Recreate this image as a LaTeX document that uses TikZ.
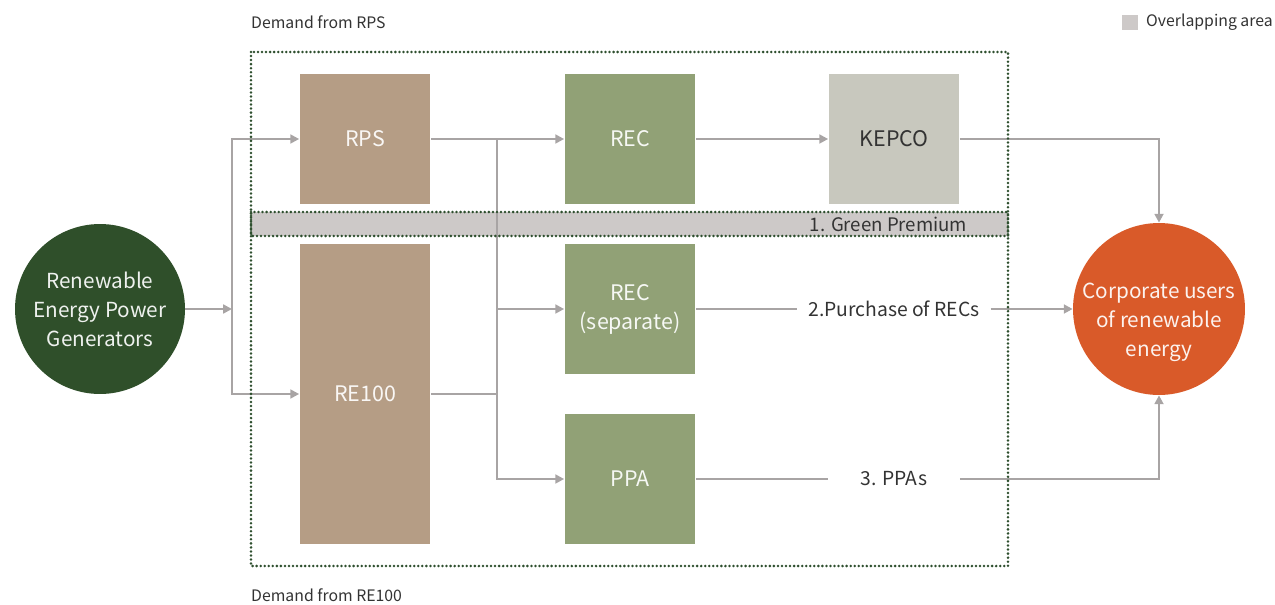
\documentclass[tikz,border=0pt]{standalone}
\usepackage{fontspec}
\setmainfont{Noto Sans CJK KR}
\usepackage{xcolor}
\usetikzlibrary{arrows.meta,positioning}
\definecolor{rpsbrown}{HTML}{B59D85}
\definecolor{recgreen}{HTML}{91A176}
\definecolor{kepcogray}{HTML}{C8C8BE}
\definecolor{bandgray}{HTML}{CDC9C8}
\definecolor{gendark}{HTML}{2F4F2A}
\definecolor{corporange}{HTML}{D95A29}
\definecolor{linegray}{HTML}{A8A4A4}
\definecolor{dotgreen}{HTML}{2E4F2E}
\definecolor{txtdark}{HTML}{333333}
\tikzset{
  box/.style={rectangle, minimum width=2.62cm, minimum height=2.62cm, inner sep=0pt, align=center, font=\fontsize{12.2}{16.5}\selectfont},
  rpsbox/.style={box, fill=rpsbrown, text=white!92!rpsbrown},
  recbox/.style={box, fill=recgreen, text=white!92!recgreen},
  kepcobox/.style={box, fill=kepcogray, text=txtdark},
  bigcirc/.style={circle, inner sep=0pt, align=center, font=\fontsize{11.8}{16.5}\selectfont},
  flowlbl/.style={inner xsep=6pt, text=txtdark, font=\fontsize{11}{13}\selectfont},
  smalllbl/.style={text=txtdark, font=\fontsize{9}{11}\selectfont},
  flow/.style={draw=linegray, line width=1.4pt, -{Triangle[width=5pt,length=5pt]}},
  plainflow/.style={draw=linegray, line width=1.4pt},
  demandbox/.style={draw=dotgreen, line width=1.6pt, line cap=round, dash pattern=on 0pt off 2.3pt}
}
\begin{document}
\begin{tikzpicture}[x=0.02cm, y=-0.02cm]
\useasboundingbox (0,0) rectangle (1275,605);

% overlapping band and demand areas
\fill[bandgray] (251,212) rectangle (1008,236);
\node[flowlbl, anchor=east, font=\fontsize{10.6}{13}\selectfont] (greenprem) at (978,224) {1. Green Premium};

% boxes
\node[bigcirc, fill=gendark, text=white!92!gendark, minimum size=3.4cm] (gen) at (100,309) {Renewable\\Energy Power\\Generators};
\node[rpsbox] (rps) at (365,139) {RPS};
\node[rpsbox, minimum height=6.02cm] (re100) at (365,394) {RE100};
\node[recbox] (rec) at (630,139) {REC};
\node[kepcobox] (kepco) at (894,139) {KEPCO};
\node[recbox] (recsep) at (630,309) {REC\\(separate)};
\node[recbox] (ppa) at (630,479) {PPA};
\node[bigcirc, fill=corporange, minimum size=3.44cm] (corp) at (1159,309) {};
\node[bigcirc, text=white!92!corporange, font=\fontsize{11.8}{16.5}\selectfont] (corptext) at (1159,322) {Corporate users\\of renewable\\energy};

% labels on the lines
\node[flowlbl] (purchase) at (894,309) {2.Purchase of RECs};
\node[flowlbl, minimum width=2.62cm] (ppalbl) at (894,479) {3. PPAs};

% connectors
\coordinate (split1) at (232,309);
\coordinate (split2) at (497,139);
\draw[flow] (gen) -- (split1);
\draw[flow] (split1) |- (rps);
\draw[flow] (split1) |- (re100);
\draw[flow] (rps) -- (rec);
\draw[plainflow] (re100) -- (re100 -| split2);
\draw[flow] (split2) |- (recsep);
\draw[flow] (split2) |- (ppa);
\draw[flow] (rec) -- (kepco);
\draw[flow] (kepco) -| (corp);
\draw[plainflow] (recsep) -- (purchase);
\draw[flow] (purchase) -- (corp);
\draw[plainflow] (ppa) -- (ppalbl);
\draw[flow] (ppalbl) -| (corp);

\draw[demandbox] (251,52) rectangle (1008,236);
\draw[demandbox] (251,212) rectangle (1008,566);

% legend and titles
\node[smalllbl, anchor=west] (rpsdemand) at (245,22) {Demand from RPS};
\node[smalllbl, anchor=west] (re100demand) at (245,595) {Demand from RE100};
\fill[bandgray] (1122,15) rectangle (1138,30);
\node[smalllbl, anchor=west] (legend) at (1140,22) {Overlapping area};
\end{tikzpicture}
\end{document}
